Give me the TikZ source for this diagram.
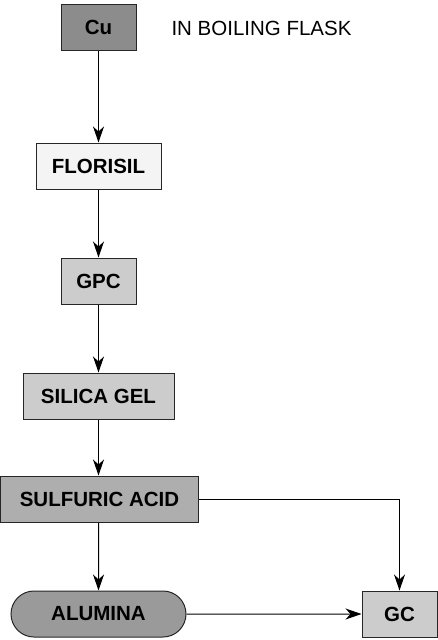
\documentclass[tikz,border=0pt]{standalone}
\usepackage{fontspec}
\setmainfont{Liberation Sans}
\usetikzlibrary{positioning,arrows.meta,shapes.misc}

\definecolor{cudark}{HTML}{8C8C8C}
\definecolor{florlight}{HTML}{F4F4F4}
\definecolor{colgray}{HTML}{CCCCCC}
\definecolor{acidgray}{HTML}{AEAEAE}
\definecolor{alugray}{HTML}{9A9A9A}

\begin{document}
\begin{tikzpicture}[x=1pt, y=-1pt,
  stage/.style={draw=black!85, line width=1pt, minimum height=46pt,
    inner sep=0pt, font=\fontsize{20.5}{24}\selectfont\bfseries},
  flow/.style={-{Stealth[length=16pt, width=11pt, inset=5pt]}, line width=1pt}]
\useasboundingbox (0, 0) rectangle (438, 640);
\node[stage, fill=cudark, minimum width=75pt] (cu) at (98.5, 27.5) {Cu};
\node[font=\fontsize{20.5}{24}\selectfont] (flask) at (261.5, 28) {IN BOILING FLASK};
\node[stage, fill=florlight, minimum width=125pt] (florisil) at (98.5, 166) {FLORISIL};
\node[stage, fill=colgray, minimum width=75pt] (gpc) at (98.5, 281) {GPC};
\node[stage, fill=colgray, minimum width=151pt] (silica) at (98.5, 396) {SILICA GEL};
\node[stage, fill=acidgray, minimum width=198pt] (sulfuric) at (99.5, 499) {SULFURIC ACID};
\node[stage, rounded rectangle, fill=alugray, minimum width=175pt] (alumina) at (98.5, 614) {ALUMINA};
\node[stage, fill=colgray, minimum width=75pt] (gc) at (399.5, 614) {GC};
\draw[flow] (cu) -- (florisil);
\draw[flow] (florisil) -- (gpc);
\draw[flow] (gpc) -- (silica);
\draw[flow] (silica) -- (sulfuric.north -| silica.south);
\draw[flow] (sulfuric.south -| alumina.north) -- (alumina);
\draw[flow] (sulfuric.east) -| (gc.north);
\draw[flow] (alumina) -- (gc);
\end{tikzpicture}
\end{document}
